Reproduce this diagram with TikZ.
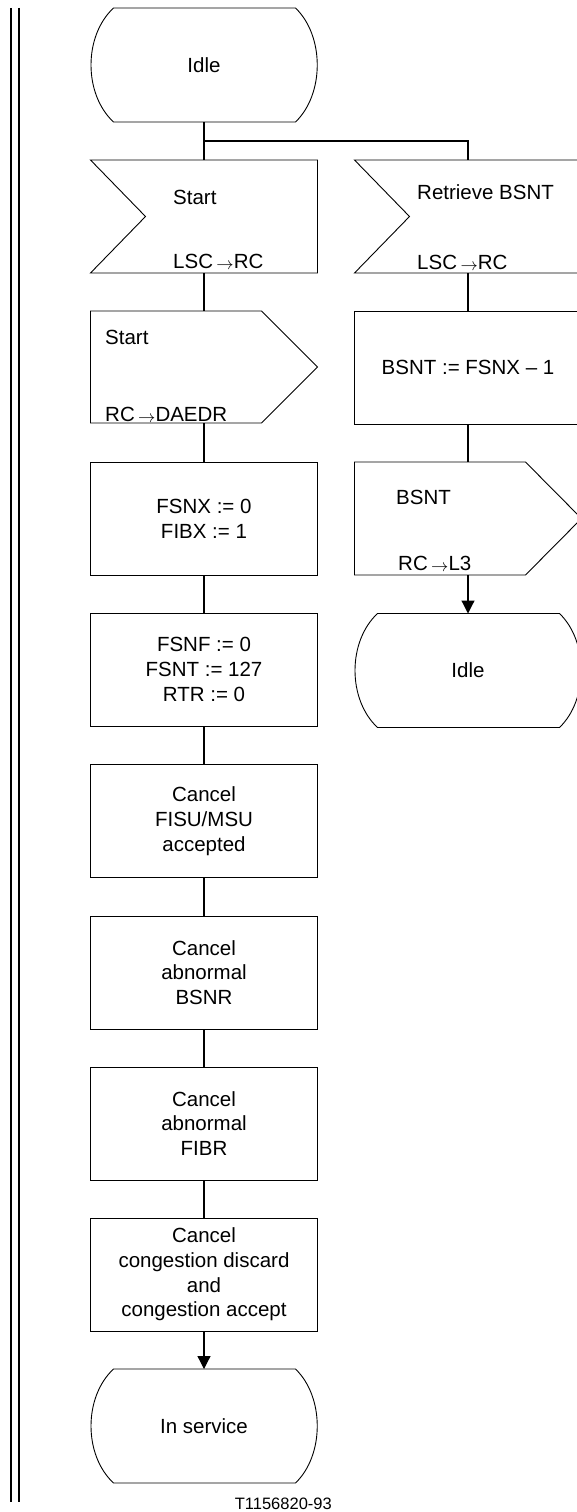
\documentclass[tikz,border=0pt]{standalone}
\usepackage{fontspec}
\setmainfont{Liberation Sans}
\usetikzlibrary{arrows.meta,calc}
\newcommand{\sdlarrow}{\,\raisebox{-1pt}{\fontsize{17}{17}\selectfont$\rightarrow$}}
\tikzset{
  every node/.style={font=\fontsize{20.5}{24.7}\selectfont},
  frame/.style={minimum width=227pt, minimum height=113pt, inner sep=0pt, outer sep=0pt, align=center},
  taskbox/.style={frame, draw, line width=0.9pt},
  outl/.style={draw, line width=0.9pt, line join=miter},
  conn/.style={draw, line width=1.2pt},
  arr/.style={conn, -{Triangle[length=13pt,width=13pt]}},
  lbl/.style={anchor=base west, inner sep=0pt},
  bar/.style={line width=2pt}
}
\newcommand{\stateoutline}[1]{%
  \draw[outl] ($(#1.north west)+(23,0)$) -- ($(#1.north east)+(-22,0)$)
    .. controls ($(#1.north east)+(7,28)$) and ($(#1.south east)+(7,-28)$) .. ($(#1.south east)+(-22,0)$)
    -- ($(#1.south west)+(23,0)$)
    .. controls ($(#1.south west)+(-7,-28)$) and ($(#1.north west)+(-7,28)$) .. ($(#1.north west)+(23,0)$) -- cycle;}
\newcommand{\inputoutline}[1]{%
  \draw[outl] (#1.north west) -- (#1.north east) -- (#1.south east) -- (#1.south west)
    -- ($(#1.west)+(55,0)$) -- cycle;}
\newcommand{\outputoutline}[1]{%
  \draw[outl] (#1.north west) -- ($(#1.north east)+(-56,0)$) -- (#1.east)
    -- ($(#1.south east)+(-56,0)$) -- (#1.south west) -- cycle;}
\begin{document}
\begin{tikzpicture}[x=1pt,y=-1pt]
\useasboundingbox (0,0) rectangle (577,1512);
\clip (0,0) rectangle (577,1512);
% side bars
\draw[bar] (11,8) -- (11,1502);
\draw[bar] (19,8) -- (19,1502);
% left column
\node[frame, minimum height=114pt] (idle1) at (204,65) {Idle};
\stateoutline{idle1}
\node[frame] (in1) at (204,216.5) {};
\inputoutline{in1}
\node[lbl] (in1a) at (173,204) {Start};
\node[lbl] (in1b) at (173,268) {LSC\sdlarrow RC};
\node[frame, minimum height=112pt] (out1) at (204,367) {};
\outputoutline{out1}
\node[lbl] (out1a) at (105,344) {Start};
\node[lbl] (out1b) at (105,421) {RC\sdlarrow DAEDR};
\node[taskbox] (t1) at (204,518.5) {FSNX := 0\\FIBX := 1};
\node[taskbox] (t2) at (204,669.5) {FSNF := 0\\FSNT := 127\\RTR := 0};
\node[taskbox] (t3) at (204,821) {Cancel\\FISU/MSU\\accepted};
\node[taskbox] (t4) at (204,972.5) {Cancel\\abnormal\\BSNR};
\node[taskbox] (t5) at (204,1123.5) {Cancel\\abnormal\\FIBR};
\node[taskbox] (t6) at (204,1274.5) {Cancel\\congestion discard\\and\\congestion accept};
\node[frame, minimum height=114pt] (insv) at (204,1426) {In service};
\stateoutline{insv}
% right column
\node[frame] (in2) at (468,216.5) {};
\inputoutline{in2}
\node[lbl] (in2a) at (417,199) {Retrieve BSNT};
\node[lbl] (in2b) at (417,269) {LSC\sdlarrow RC};
\node[taskbox] (t7) at (468,367.5) {BSNT := FSNX -- 1};
\node[frame, minimum height=113pt] (out2) at (468,518.5) {};
\outputoutline{out2}
\node[lbl] (out2a) at (396,504) {BSNT};
\node[lbl] (out2b) at (398,570) {RC\sdlarrow L3};
\node[frame, minimum height=114pt] (idle2) at (468,670.5) {Idle};
\stateoutline{idle2}
% connectors
\coordinate (br) at (204,141);
\draw[conn] (idle1.south) -- (in1.north);
\draw[conn] (br) -| (in2.north);
\draw[conn] (in1.south) -- (out1.north);
\draw[conn] (out1.south) -- (t1.north);
\draw[conn] (t1.south) -- (t2.north);
\draw[conn] (t2.south) -- (t3.north);
\draw[conn] (t3.south) -- (t4.north);
\draw[conn] (t4.south) -- (t5.north);
\draw[conn] (t5.south) -- (t6.north);
\draw[arr] (t6.south) -- (insv.north);
\draw[conn] (in2.south) -- (t7.north);
\draw[conn] (t7.south) -- (out2.north);
\draw[arr] (out2.south) -- (idle2.north);
% figure id
\node[anchor=base east, inner sep=0pt, font=\fontsize{16.5}{18}\selectfont] (figid) at (332,1509) {T1156820-93};
\end{tikzpicture}
\end{document}
